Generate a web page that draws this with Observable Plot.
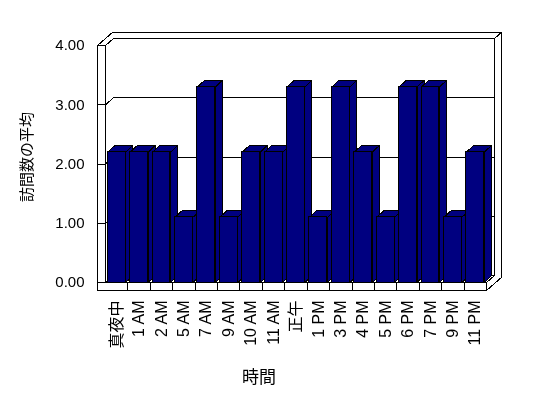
<!DOCTYPE html>
<html><head><meta charset="utf-8">
<script src="https://cdn.jsdelivr.net/npm/d3@7"></script>
<script src="https://cdn.jsdelivr.net/npm/@observablehq/plot@0.6"></script>
<style>
html,body{margin:0;padding:0;background:#fff;}
svg text{filter:grayscale(1);}
</style>
</head><body><div id="chart"></div>
<script>
const categories = ["真夜中","1 AM","2 AM","5 AM","7 AM","9 AM","10 AM","11 AM","正午","1 PM","3 PM","4 PM","5 PM","6 PM","7 PM","9 PM","11 PM"];
const values = [2.2,2.2,2.2,1.1,3.3,1.1,2.2,2.2,3.3,1.1,3.3,2.2,1.1,3.3,3.3,1.1,2.2];
const yTicks = [0,1,2,3,4];
const xTitle = "時間";
const yTitle = "訪問数の平均";

const W = 548, H = 398;
const mL = 105, mR = 62, mT = 45, mB = 116;
const n = categories.length, yMax = yTicks[yTicks.length - 1];
const kx = (W - mL - mR) / n, ky = (H - mT - mB) / yMax;
// oblique depth (pixel offsets converted to data units)
const DX = 8 / kx, DY = 7 / ky;       // front plane -> back wall surface
const ZO = 1.85;                      // outer wall edge depth factor
const BDX = 7 / kx, BDY = 6.5 / ky;   // bar depth
const WT = 8 / kx, FB = -8 / ky;      // wall thickness, floor thickness

const bars = categories.map((c, i) => ({c, i, v: values[i], x1: i + 0.1, x2: i + 0.9, y0: 0}));

const faces = [];
bars.forEach((b, k) => {
  const top = [[b.x1, b.v], [b.x2, b.v], [b.x2 + BDX, b.v + BDY], [b.x1 + BDX, b.v + BDY], [b.x1, b.v]];
  const side = [[b.x2, 0], [b.x2, b.v], [b.x2 + BDX, b.v + BDY], [b.x2 + BDX, BDY], [b.x2, 0]];
  top.forEach(p => faces.push({id: "t" + k, x: p[0], y: p[1]}));
  side.forEach(p => faces.push({id: "s" + k, x: p[0], y: p[1]}));
});

const frame = [];
const addPath = (id, pts) => pts.forEach(p => frame.push({id, x: p[0], y: p[1]}));
addPath("floorFront", [[-WT, FB], [n, FB], [n, 0], [-WT, 0], [-WT, FB]]);
addPath("leftFront", [[-WT, 0], [-WT, yMax], [0, yMax], [0, 0]]);
addPath("outer", [[-WT, yMax], [-WT + ZO * DX, yMax + ZO * DY], [n + ZO * DX, yMax + ZO * DY], [n + ZO * DX, FB + ZO * DY], [n, FB]]);
addPath("inner", [[0, yMax], [DX, yMax + DY], [n + DX, yMax + DY], [n + ZO * DX, yMax + ZO * DY]]);
addPath("rightInner", [[n + DX, yMax + DY], [n + DX, DY], [n, 0]]);
yTicks.forEach(v => addPath("grid" + v, [[-WT, v], [0, v], [DX, v + DY], [n + DX, v + DY]]));
for (let j = 1; j < n; j++) addPath("sep" + j, [[j, FB], [j, 0]]);

const font = "'Liberation Sans','Noto Sans CJK JP',sans-serif";

const svg = Plot.plot({
  width: W, height: H,
  marginLeft: mL, marginRight: mR, marginTop: mT, marginBottom: mB,
  style: {fontFamily: font, fontSize: "15px", background: "white", color: "black"},
  x: {domain: [0, n], label: null},
  y: {domain: [0, yMax], label: null},
  marks: [
    Plot.line(frame, {x: "x", y: "y", z: "id", stroke: "black", strokeWidth: 1, curve: "linear"}),
    Plot.line(faces, {x: "x", y: "y", z: "id", fill: "#000080", stroke: "black", strokeWidth: 1, curve: "linear"}),
    Plot.rect(bars, {x1: "x1", x2: "x2", y1: "y0", y2: "v", fill: "#000080", stroke: "black", strokeWidth: 1}),
    Plot.axisY({ticks: yTicks, tickFormat: d3.format(".2f"), tickSize: 0, tickPadding: 21, label: null, fontSize: 15}),
    Plot.axisX({ticks: categories.map((c, i) => i + 0.5), tickFormat: d => categories[Math.round(d - 0.5)], tickRotate: -90, tickSize: 0, tickPadding: 18, label: null, fontSize: 16}),
    Plot.text([yTitle], {frameAnchor: "left", textAnchor: "middle", lineAnchor: "middle", rotate: -90, dx: -78, dy: -7, fontSize: 15, fill: "black"}),
    Plot.text([xTitle], {frameAnchor: "bottom", textAnchor: "middle", lineAnchor: "middle", dx: -37, dy: 95, fontSize: 17, fill: "black"})
  ]
});
svg.setAttribute("shape-rendering", "crispEdges");
svg.querySelectorAll("text").forEach(t => t.setAttribute("shape-rendering", "auto"));
document.getElementById("chart").appendChild(svg);
</script>
</body></html>
